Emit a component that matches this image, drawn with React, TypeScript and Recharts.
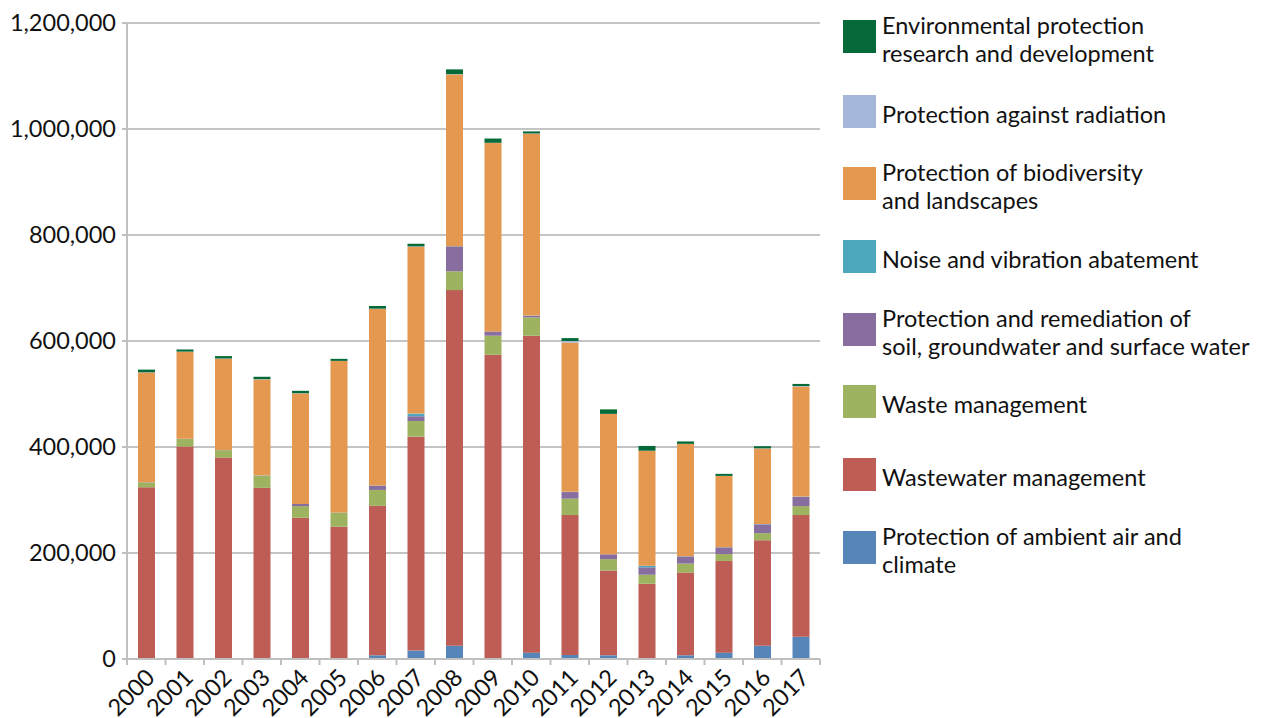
import React from 'react';
import { BarChart, Bar, XAxis, YAxis, CartesianGrid } from 'recharts';

const years = ['2000', '2001', '2002', '2003', '2004', '2005', '2006', '2007', '2008', '2009', '2010', '2011', '2012', '2013', '2014', '2015', '2016', '2017'];

const airClimate = [1000, 1000, 1000, 1000, 1000, 1000, 7000, 16000, 25000, 1500, 12000, 7500, 7000, 1000, 7000, 12000, 25000, 42000];
const wastewater = [323000, 400000, 379000, 322000, 265500, 248500, 282000, 403500, 671000, 572500, 598000, 264000, 160000, 141000, 156000, 173000, 199000, 229500];
const waste = [9000, 14000, 14000, 23000, 22000, 26500, 30000, 29500, 35500, 36000, 34500, 31000, 21500, 17000, 17000, 13000, 13500, 17000];
const soil = [500, 500, 500, 500, 4000, 500, 8000, 9000, 47000, 8000, 3000, 12500, 9000, 14000, 13500, 12500, 16500, 17500];
const noise = [0, 0, 0, 0, 0, 0, 500, 5000, 500, 0, 500, 500, 0, 3000, 500, 500, 500, 500];
const biodiversity = [207000, 164000, 172000, 181000, 208500, 286000, 333000, 315000, 324000, 355500, 343000, 281500, 265000, 217000, 212000, 134500, 142500, 207500];
const radiation = [500, 500, 500, 500, 500, 0, 500, 500, 500, 500, 500, 3000, 0, 0, 0, 0, 500, 1000];
const researchDev = [5000, 4000, 4500, 4500, 4500, 3800, 5000, 5000, 9000, 8000, 4000, 5500, 8500, 9000, 4500, 3800, 4000, 4000];

const yTicks = [0, 200000, 400000, 600000, 800000, 1000000, 1200000];

const series = [
  { key: 'air', name: 'Protection of ambient air and climate', values: airClimate, color: '#5686b9', lines: ['Protection of ambient air and', 'climate'] },
  { key: 'wastewater', name: 'Wastewater management', values: wastewater, color: '#bd5d55', lines: ['Wastewater management'] },
  { key: 'waste', name: 'Waste management', values: waste, color: '#9db35f', lines: ['Waste management'] },
  { key: 'soil', name: 'Protection and remediation of soil, groundwater and surface water', values: soil, color: '#876e9f', lines: ['Protection and remediation of', 'soil, groundwater and surface water'] },
  { key: 'noise', name: 'Noise and vibration abatement', values: noise, color: '#4ea8bd', lines: ['Noise and vibration abatement'] },
  { key: 'bio', name: 'Protection of biodiversity and landscapes', values: biodiversity, color: '#e5984f', lines: ['Protection of biodiversity', 'and landscapes'] },
  { key: 'radiation', name: 'Protection against radiation', values: radiation, color: '#a5b7d8', lines: ['Protection against radiation'] },
  { key: 'rd', name: 'Environmental protection research and development', values: researchDev, color: '#056939', lines: ['Environmental protection', 'research and development'] },
];

const data = years.map((year, i) => {
  const row: Record<string, any> = { year };
  series.forEach((s) => {
    row[s.key] = s.values[i];
  });
  return row;
});

const legendTops = [20, 95, 167, 240, 313, 385, 458, 531];

const CHART_W = 830;
const CHART_H = 718;
const PLOT_LEFT = 127;
const PLOT_RIGHT_MARGIN = 10;
const BAND = (CHART_W - PLOT_LEFT - PLOT_RIGHT_MARGIN) / years.length;
const FONT = 23.5;

const XTick = (props: any) => {
  const { x, y, payload, index } = props;
  const top = y - 8;
  const ax = x + 10;
  const ay = top + 20;
  return (
    <g>
      <line x1={x - BAND / 2} y1={top} x2={x - BAND / 2} y2={top + 6} stroke="#bfbfbf" strokeWidth={2} />
      {index === years.length - 1 && (
        <line x1={x + BAND / 2} y1={top} x2={x + BAND / 2} y2={top + 6} stroke="#bfbfbf" strokeWidth={2} />
      )}
      <text
        x={ax}
        y={ay}
        textAnchor="end"
        transform={`rotate(-45, ${ax}, ${ay})`}
        fill="#111"
        fontSize={FONT}
        fontFamily="Lato, sans-serif"
      >
        {payload.value}
      </text>
    </g>
  );
};

export default function App() {
  const legendItems = [...series].reverse();
  return (
    <div style={{ position: 'absolute', left: 0, top: 0, width: 1268, height: 718, background: '#fff', fontFamily: 'Lato, sans-serif' }}>
      <BarChart
        width={CHART_W}
        height={CHART_H}
        data={data}
        margin={{ top: 23, right: PLOT_RIGHT_MARGIN, left: 0, bottom: 0 }}
        barSize={17}
      >
        <CartesianGrid vertical={false} stroke="#c4c4c4" strokeWidth={2} />
        <XAxis
          dataKey="year"
          height={59}
          interval={0}
          tickLine={false}
          axisLine={{ stroke: '#bfbfbf', strokeWidth: 2 }}
          tick={<XTick />}
        />
        <YAxis
          width={PLOT_LEFT}
          domain={[0, 1200000]}
          ticks={yTicks}
          interval={0}
          tickSize={5}
          tickMargin={6}
          tickLine={{ stroke: '#bfbfbf', strokeWidth: 2 }}
          axisLine={{ stroke: '#bfbfbf', strokeWidth: 2 }}
          tick={{ fill: '#111', fontSize: FONT, fontFamily: 'Lato, sans-serif' }}
          tickFormatter={(v: number) => v.toLocaleString('en-US')}
        />
        {series.map((s) => (
          <Bar key={s.key} dataKey={s.key} name={s.name} stackId="a" fill={s.color} isAnimationActive={false} />
        ))}
      </BarChart>
      {legendItems.map((s, i) => (
        <div
          key={s.key}
          style={{
            position: 'absolute',
            left: 843,
            top: legendTops[i],
            height: 33,
            display: 'flex',
            alignItems: 'center',
          }}
        >
          <div style={{ width: 33, height: 33, background: s.color, flexShrink: 0 }} />
          <div style={{ marginLeft: 6, fontSize: FONT, lineHeight: '28px', color: '#111', whiteSpace: 'nowrap', marginTop: 4 }}>
            {s.lines.map((l, j) => (
              <div key={j}>{l}</div>
            ))}
          </div>
        </div>
      ))}
    </div>
  );
}
